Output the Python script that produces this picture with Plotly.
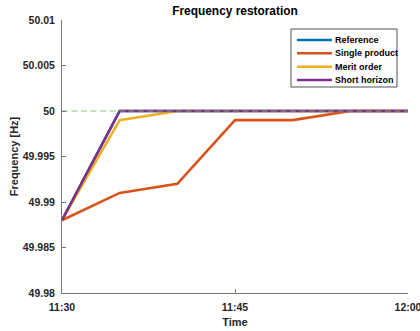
import plotly.graph_objects as go

minutes = [0, 5, 10, 15, 20, 25, 30]
reference = [49.988, 50.0, 50.0, 50.0, 50.0, 50.0, 50.0]
single_product = [49.988, 49.991, 49.992, 49.999, 49.999, 50.0, 50.0]
merit_order = [49.988, 49.999, 50.0, 50.0, 50.0, 50.0, 50.0]
short_horizon = [49.988, 50.0, 50.0, 50.0, 50.0, 50.0, 50.0]
target = [50.0, 50.0]
target_x = [0, 30]

x_tickvals = [0, 15, 30]
x_ticktext = ["11:30", "11:45", "12:00"]
y_tickvals = [49.98, 49.985, 49.99, 49.995, 50.0, 50.005, 50.01]
y_ticktext = ["49.98", "49.985", "49.99", "49.995", "50", "50.005", "50.01"]

series_names = ["Reference", "Single product", "Merit order", "Short horizon"]
series_values = [reference, single_product, merit_order, short_horizon]
series_colors = ["#0072BD", "#D95319", "#EDB120", "#7E2F8E"]

font = "Liberation Sans, Arial, sans-serif"
fig = go.Figure()
for name, vals, col in zip(series_names, series_values, series_colors):
    fig.add_trace(go.Scatter(x=minutes, y=vals, mode="lines", name=name,
                             showlegend=False, line=dict(color=col, width=2.6)))
fig.add_trace(go.Scatter(x=target_x, y=target, mode="lines", showlegend=False,
                         line=dict(color="rgba(120,190,90,0.85)", width=1, dash="6px,3.5px")))

# compact legend box (MATLAB style)
L, R, T, B = 62, 408, 20, 293
def px(x): return (x - L) / (R - L)
def py(y): return (B - y) / (B - T)

shapes = [dict(type="rect", xref="paper", yref="paper",
               x0=px(291), x1=px(397), y0=py(87), y1=py(29),
               line=dict(color="#262626", width=0.8), fillcolor="white", layer="above")]
annotations = []
row_y = [40, 53.3, 66.7, 80]
for name, col, yy in zip(series_names, series_colors, row_y):
    shapes.append(dict(type="line", xref="paper", yref="paper",
                       x0=px(297), x1=px(332), y0=py(yy), y1=py(yy),
                       line=dict(color=col, width=2.6), layer="above"))
    annotations.append(dict(text="<b>%s</b>" % name, xref="paper", yref="paper",
                            x=px(333), y=py(yy), xanchor="left", yanchor="middle",
                            showarrow=False, font=dict(size=9, color="#000")))

fig.update_layout(
    width=420, height=331,
    margin=dict(l=L, r=420 - R, t=T, b=331 - B),
    paper_bgcolor="white", plot_bgcolor="white",
    font=dict(family=font, size=10.5, color="#262626"),
    title=dict(text="<b>Frequency restoration</b>", x=px(235), xanchor="center",
               xref="paper", y=1 - 11/331, yanchor="middle",
               font=dict(size=11.9, color="#000")),
    showlegend=False,
    shapes=shapes, annotations=annotations,
)
fig.update_xaxes(range=[0, 30], tickvals=x_tickvals,
                 ticktext=["<b>%s</b>" % t for t in x_ticktext],
                 showgrid=False, zeroline=False, showline=True, linecolor="#777",
                 linewidth=1, ticks="inside", ticklen=4, tickcolor="#777",
                 ticklabelstandoff=4, ticklabeloverflow="allow", automargin=False,
                 title=dict(text="<b>Time</b>", font=dict(size=11, color="#262626"), standoff=6))
fig.update_yaxes(range=[49.98, 50.01], tickvals=y_tickvals,
                 ticktext=["<b>%s</b>" % t for t in y_ticktext],
                 showgrid=False, zeroline=False, showline=True, linecolor="#777",
                 linewidth=1, ticks="inside", ticklen=4, tickcolor="#777",
                 ticklabelstandoff=4, ticklabeloverflow="allow", automargin=False,
                 title=dict(text="<b>Frequency [Hz]</b>", font=dict(size=11, color="#262626"), standoff=1))

fig.write_html("out.html")
